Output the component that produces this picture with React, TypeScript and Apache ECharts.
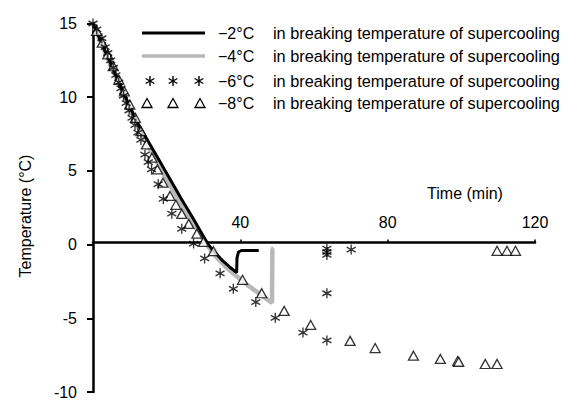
import React, { useEffect, useRef } from "react";
import * as echarts from "echarts";

// ---- data (time in min, temperature in °C) ----
const minus2Line: number[][] = [
  [0, 15], [3, 13.3], [6, 11.6], [9, 9.9], [12, 8.3], [15, 7.0], [18, 5.7],
  [21, 4.4], [24, 3.1], [27, 1.85], [30, 0.55], [31.3, 0], [33, -0.5],
  [35, -1.05], [37, -1.5], [39, -1.9], [39.1, -0.9], [39.5, -0.5], [40.3, -0.4], [45, -0.4],
];
const minus4Line: number[][] = [
  [0, 15], [3, 13.2], [6, 11.5], [9, 9.8], [12, 8.1], [15, 6.7], [18, 5.3],
  [21, 4.0], [24, 2.7], [27, 1.5], [30, 0.3], [33, -0.7], [36, -1.5], [39, -2.15],
  [42, -2.75], [45, -3.3], [48.6, -3.95], [48.7, -0.3], [48.3, -0.28],
];
const minus6Stars: number[][] = [
  [0, 15], [1, 14.6], [2.4, 14], [3.3, 13.4], [4, 13], [4.8, 12.5], [5.5, 12],
  [6.2, 11.5], [7, 11], [7.6, 10.6], [8.3, 10.1], [9, 9.6], [9.8, 9.1], [10.6, 8.6],
  [11.4, 8.1], [12.2, 7.6], [13, 7.1], [14.1, 6.1], [15, 5.6], [15.9, 5.1], [17.7, 4.1],
  [19.1, 3.1], [21.4, 2.1], [24.1, 1.07], [27.3, 0.07], [30.3, -0.94], [34.5, -1.95],
  [38.1, -3], [44.2, -3.9], [49.5, -4.97], [57, -5.97], [63.5, -6.5], [63.5, -3.3],
  [63.5, -0.7], [63.5, -0.5], [63.5, -0.27], [70.1, -0.34],
];
const minus8Triangles: number[][] = [
  [1, 14.5], [2.5, 13.7], [4, 12.9], [5.5, 12.1], [7, 11.2], [8.5, 10.4], [10, 9.5],
  [11.5, 8.6], [13, 7.7], [14.5, 6.8], [16, 5.9], [17.5, 5.1], [19, 4.2], [20.9, 3.3],
  [22.5, 2.7], [24.1, 2.08], [26, 1.4], [28.2, 0.74], [30, 0.18], [32.7, -0.45],
  [40.6, -2.39], [45.8, -3.3], [51.9, -4.5], [59.1, -5.45], [69.8, -6.53], [76.6, -7.02],
  [87, -7.54], [94.3, -7.76], [99, -7.9], [99.3, -7.95], [106.5, -8.1], [109.7, -8.1],
  [109.7, -0.42], [112.4, -0.42], [114.7, -0.42],
];
const xRange = [0, 120];
const xStep = 40;
const yRange = [-10, 15];
const yStep = 5;
const legendTemps = ["\u22122°C", "\u22124°C", "\u22126°C", "\u22128°C"];
const legendSuffix = "in breaking temperature of supercooling";
const xTitle = "Time (min)";
const yTitle = "Temperature (°C)";

const STAR_D = "M5,0 L5,10 M0.67,2.5 L9.33,7.5 M0.67,7.5 L9.33,2.5";
const FONT = "Liberation Sans, Arial, sans-serif";
const GRAY = "#b8b8b8";

const GRID_TOP = 23.5;
const GRID_BOTTOM = 3;
const CHART_H = 400;

let registered = false;

export default function App() {
  const ref = useRef<HTMLDivElement>(null);
  useEffect(() => {
    if (!ref.current) return;
    if (!registered) {
      echarts.graphic.registerShape("star6", echarts.graphic.extendPath(STAR_D, {}));
      registered = true;
    }
    const chart = echarts.init(ref.current, null, { renderer: "svg" });

    const gridH = CHART_H - GRID_TOP - GRID_BOTTOM;
    // move the x axis (line + labels) up to the y = 0 level
    const xOffset = -((0 - yRange[0]) / (yRange[1] - yRange[0])) * gridH;

    const rowY = [33, 56, 81, 103];
    const g: any[] = [];
    g.push({
      type: "line", shape: { x1: 142, y1: rowY[0], x2: 205, y2: rowY[0] },
      style: { stroke: "#000", lineWidth: 3 },
    });
    g.push({
      type: "line", shape: { x1: 142, y1: rowY[1], x2: 205, y2: rowY[1] },
      style: { stroke: GRAY, lineWidth: 3.5 },
    });
    [150, 173, 199].forEach((cx) => {
      g.push({
        type: "star6", x: cx - 5, y: rowY[2] - 5,
        style: { stroke: "#000", lineWidth: 1.4, fill: "none" },
      });
    });
    [147, 173, 200].forEach((cx) => {
      g.push({
        type: "polygon",
        shape: { points: [[cx - 5, rowY[3] + 4.5], [cx + 5, rowY[3] + 4.5], [cx, rowY[3] - 4.5]] },
        style: { stroke: "#000", lineWidth: 1.3, fill: "#fff" },
      });
    });
    legendTemps.forEach((t, i) => {
      g.push({
        type: "text", x: 218, y: rowY[i],
        style: { text: t, font: `16px ${FONT}`, fill: "#000", verticalAlign: "middle", align: "left" },
      });
      g.push({
        type: "text", x: 273, y: rowY[i],
        style: { text: legendSuffix, font: `16.3px ${FONT}`, fill: "#000", verticalAlign: "middle", align: "left" },
      });
    });
    g.push({
      type: "text", x: 465, y: 193,
      style: { text: xTitle, font: `16px ${FONT}`, fill: "#000", verticalAlign: "middle", align: "center" },
    });
    g.push({
      type: "text", x: 25, y: 216, rotation: Math.PI / 2,
      style: { text: yTitle, font: `16px ${FONT}`, fill: "#000", verticalAlign: "middle", align: "center" },
    });

    chart.setOption({
      animation: false,
      backgroundColor: "#fff",
      grid: { left: 93, top: GRID_TOP, right: 26, bottom: GRID_BOTTOM, containLabel: false },
      xAxis: {
        type: "value", min: xRange[0], max: xRange[1], interval: xStep,
        position: "bottom", offset: xOffset,
        axisLine: { onZero: false, lineStyle: { color: "#000", width: 2.5 } },
        axisTick: { show: true, inside: true, length: 3, lineStyle: { color: "#000", width: 1.5 } },
        axisLabel: {
          inside: true, margin: 12, showMinLabel: false,
          fontSize: 16, fontFamily: FONT, color: "#000",
        },
        splitLine: { show: false },
      },
      yAxis: {
        type: "value", min: yRange[0], max: yRange[1], interval: yStep,
        axisLine: { show: true, onZero: false, lineStyle: { color: "#000", width: 2.5 } },
        axisTick: { show: true, length: 6, lineStyle: { color: "#000", width: 2 } },
        axisLabel: { margin: 16, fontSize: 16, fontFamily: FONT, color: "#000" },
        splitLine: { show: false },
      },
      series: [
        {
          type: "line", data: minus4Line, showSymbol: false, symbol: "none",
          lineStyle: { color: GRAY, width: 4.5 }, z: 2,
        },
        {
          type: "line", data: minus2Line, showSymbol: false, symbol: "none",
          lineStyle: { color: "#000", width: 3 }, z: 3,
        },
        {
          type: "scatter", data: minus8Triangles, symbol: "triangle", symbolSize: [10, 9],
          itemStyle: { color: "#fff", borderColor: "#000", borderWidth: 1.3 }, z: 4,
        },
        {
          type: "scatter", data: minus6Stars, symbol: "path://" + STAR_D, symbolSize: [9, 10],
          itemStyle: { color: "rgba(0,0,0,0)", borderColor: "#000", borderWidth: 1.4 }, z: 5,
        },
      ],
      graphic: g,
    });
    return () => chart.dispose();
  }, []);
  return (
    <div
      ref={ref}
      style={{ position: "fixed", left: 0, top: 0, width: 561, height: 400 }}
    />
  );
}
